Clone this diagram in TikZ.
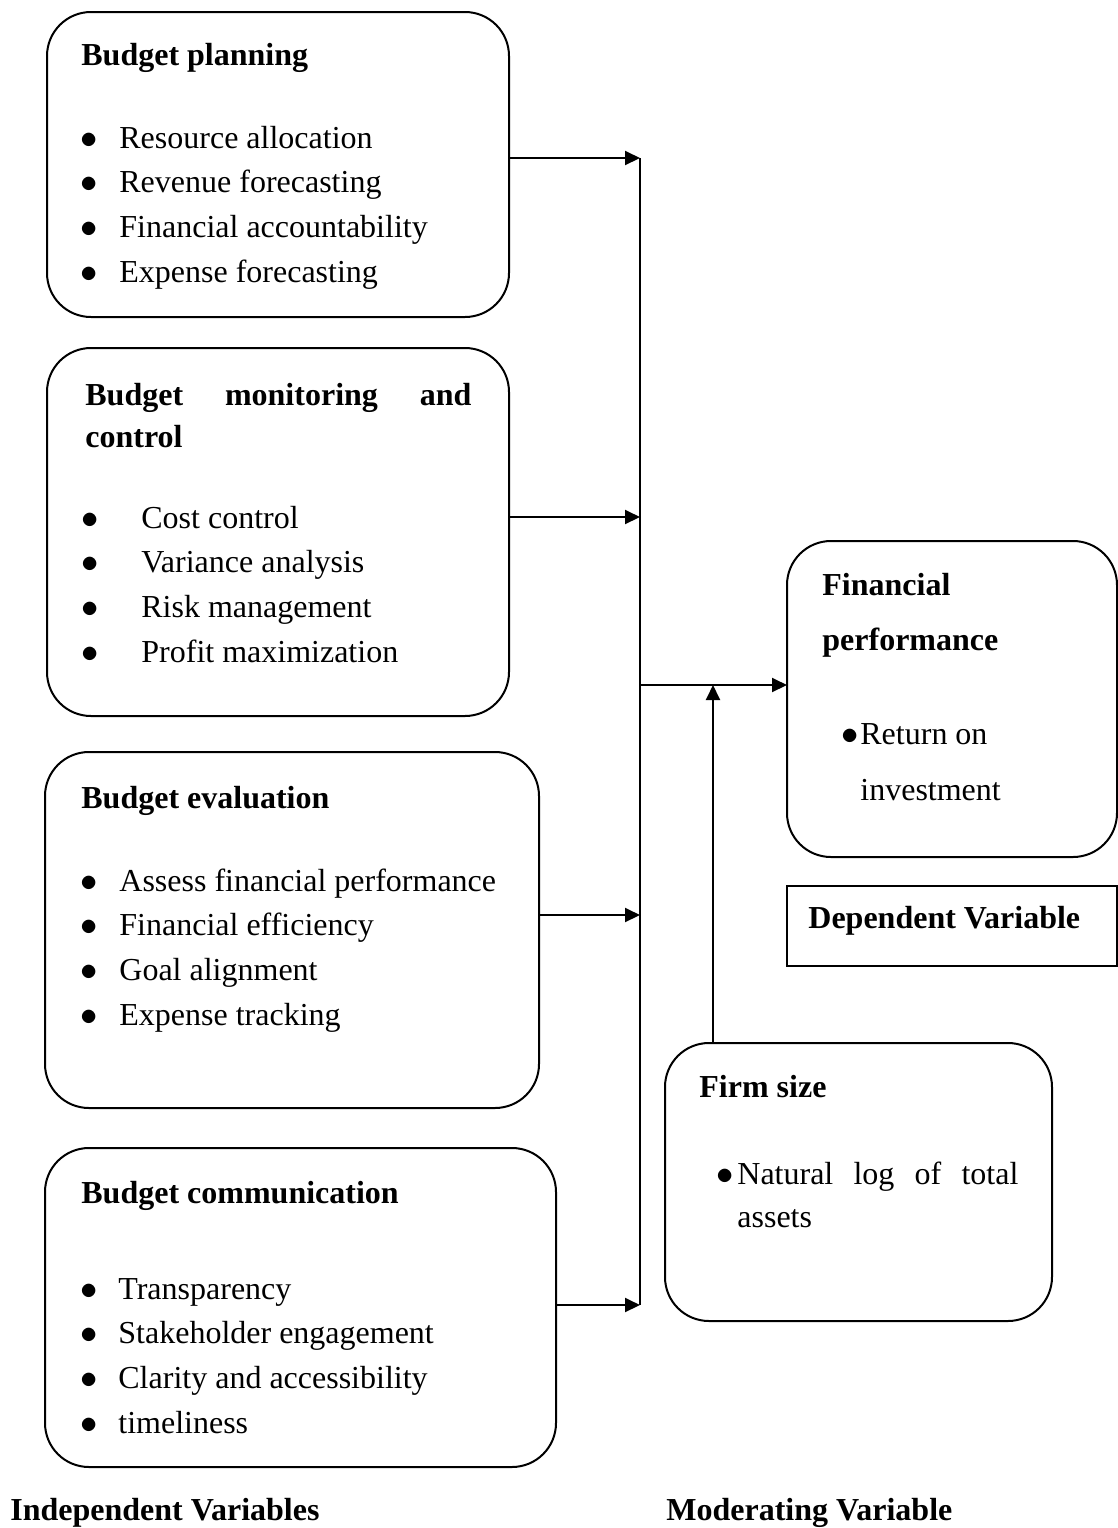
\documentclass[tikz,border=0pt]{standalone}
\usepackage{fontspec}
\setmainfont{Liberation Serif}
\usepackage{tikz}
\usetikzlibrary{positioning,arrows.meta,calc}
\newcommand{\blt}{$\bullet$}

\begin{document}
\fontsize{16}{22.4}\selectfont
\begin{tikzpicture}[
		varbox/.style={draw, line width=1pt, rounded corners=22pt, anchor=north west,
				inner sep=0pt, outer sep=0pt},
		plainbox/.style={draw, line width=1pt, anchor=north west, inner sep=0pt,
				outer sep=0pt},
		txt/.style={anchor=base west, inner sep=0pt},
		arr/.style={-{Triangle[length=7.5pt,width=7pt]}, line width=1pt},
		bus/.style={line width=1pt}
		]
		\useasboundingbox (0,0) rectangle (559pt,-764pt);
		% left: independent variables
		\node[varbox, minimum width=231pt, minimum height=152.5pt] (plan) at (23.5pt,-6pt) {};
		\node[varbox, minimum width=231pt, minimum height=184pt] (monitor) at (23.5pt,-174pt) {};
		\node[varbox, minimum width=247pt, minimum height=178pt] (eval) at (22.5pt,-376pt) {};
		\node[varbox, minimum width=255.5pt, minimum height=159.5pt] (comm) at (22.5pt,-574pt) {};
		% right: dependent + moderating variable
		\node[varbox, minimum width=165pt, minimum height=158pt] (fin) at (393.5pt,-270.5pt) {};
		\node[plainbox, minimum width=165pt, minimum height=40pt] (dep) at (393.5pt,-443pt) {};
		\node[varbox, minimum width=193.5pt, minimum height=139pt] (firm) at (332.5pt,-521.5pt) {};
		% box texts
		\node[txt] (plantitle) at ($(plan.north west)+(17pt,-26.5pt)$) {\textbf{Budget planning}};
		\node[txt] (planlist) at ($(plan.north west)+(16.5pt,-68pt)$)
		{\begin{tabular}[t]{@{}p{19.5pt}@{}l@{}}
			\blt & Resource allocation\\
			\blt & Revenue forecasting\\
			\blt & Financial accountability\\
			\blt & Expense forecasting
		\end{tabular}};
		\node[txt] (montitle) at ($(monitor.north west)+(19pt,-28.5pt)$)
		{\begin{tabular}[t]{@{}l@{}}
			\bfseries\makebox[193pt][s]{Budget monitoring and}\\[-1.4pt]
			\bfseries control
		\end{tabular}};
		\node[txt] (monlist) at ($(monitor.north west)+(17pt,-90pt)$)
		{\begin{tabular}[t]{@{}p{30pt}@{}l@{}}
			\blt & Cost control\\
			\blt & Variance analysis\\
			\blt & Risk management\\
			\blt & Profit maximization
		\end{tabular}};
		\node[txt] (evaltitle) at ($(eval.north west)+(18pt,-28pt)$) {\textbf{Budget evaluation}};
		\node[txt] (evallist) at ($(eval.north west)+(17.5pt,-69.5pt)$)
		{\begin{tabular}[t]{@{}p{19.5pt}@{}l@{}}
			\blt & Assess financial performance\\
			\blt & Financial efficiency\\
			\blt & Goal alignment\\
			\blt & Expense tracking
		\end{tabular}};
		\node[txt] (commtitle) at ($(comm.north west)+(18pt,-27.5pt)$) {\textbf{Budget communication}};
		\node[txt] (commlist) at ($(comm.north west)+(17.5pt,-75.5pt)$)
		{\begin{tabular}[t]{@{}p{19pt}@{}l@{}}
			\blt & Transparency\\
			\blt & Stakeholder engagement\\
			\blt & Clarity and accessibility\\
			\blt & timeliness
		\end{tabular}};
		\node[txt] (fintitle) at ($(fin.north west)+(17.5pt,-27pt)$)
		{\begin{tabular}[t]{@{}l@{}}
			\textbf{Financial}\\[5.1pt]
			\textbf{performance}
		\end{tabular}};
		\node[txt] (finlist) at ($(fin.north west)+(26.8pt,-101.5pt)$)
		{\begin{tabular}[t]{@{}p{9.7pt}@{}l@{}}
			\blt & Return on\\[5.6pt]
			& investment
		\end{tabular}};
		\node[txt] (deptxt) at ($(dep.north west)+(10.5pt,-21pt)$) {\textbf{Dependent Variable}};
		\node[txt] (firmtitle) at ($(firm.north west)+(17pt,-27pt)$) {\textbf{Firm size}};
		\node[txt] (firmlist) at ($(firm.north west)+(25.3pt,-70.5pt)$)
		{\begin{tabular}[t]{@{}p{10.7pt}@{}l@{}}
			\blt & \makebox[140.5pt][s]{Natural log of total}\\[-0.9pt]
			& assets
		\end{tabular}};
		% captions under the columns
		\node[txt] (indep) at (5pt,-760pt) {\textbf{Independent Variables}};
		\node[txt] (moder) at (333pt,-760pt) {\textbf{Moderating Variable}};
		% bus and its taps
		\coordinate (in1) at (320pt,-79pt);
		\coordinate (in2) at (320pt,-258.5pt);
		\coordinate (in3) at (320pt,-457.5pt);
		\coordinate (in4) at (320pt,-652.5pt);
		\coordinate (out) at (320pt,-342.5pt);
		\coordinate (mod) at (356.5pt,-342.5pt);
		\draw[bus] (in1) -- (in4);
		\draw[arr] (plan.east |- in1) -- (in1);
		\draw[arr] (monitor.east |- in2) -- (in2);
		\draw[arr] (eval.east |- in3) -- (in3);
		\draw[arr] (comm.east |- in4) -- (in4);
		% into financial performance, firm size from below
		\draw[arr] (out) -- (out -| fin.west);
		\draw[arr] (firm.north -| mod) -- (mod);
	\end{tikzpicture}
\end{document}
